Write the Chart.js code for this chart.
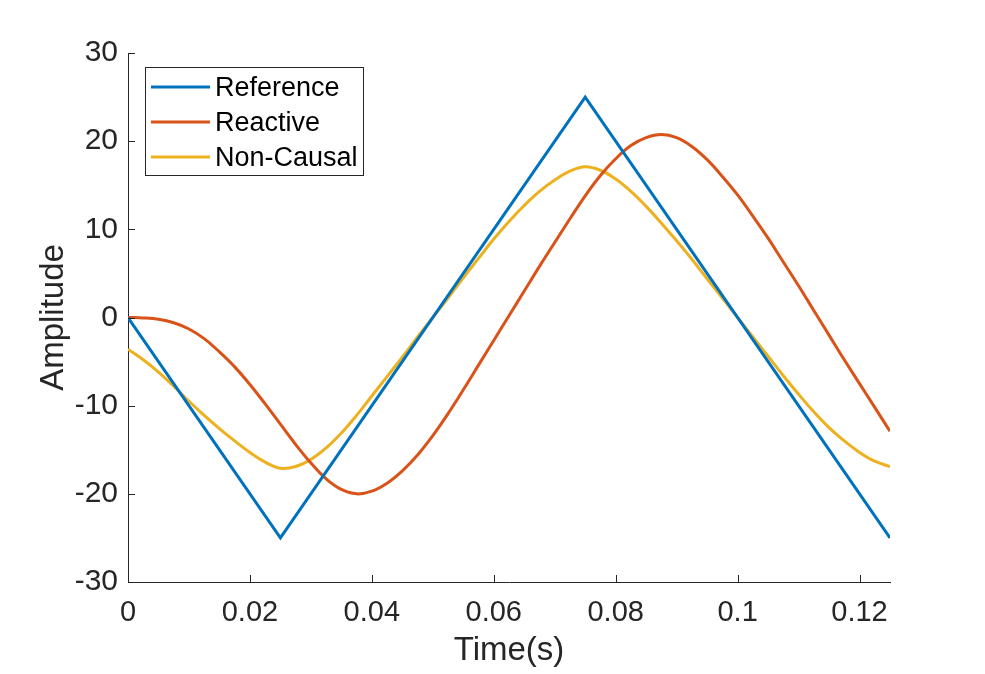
<!DOCTYPE html>
<html>
<head>
<meta charset="utf-8">
<script src="https://cdn.jsdelivr.net/npm/chart.js@4.4.1/dist/chart.umd.min.js"></script>
<style>
  html, body { margin: 0; padding: 0; background: #ffffff; }
  #wrap { width: 985px; height: 674px; }
</style>
</head>
<body>
<div id="wrap"><canvas id="c" width="985" height="674"></canvas></div>
<script>
// ---- data ----
const refTimes = [0, 0.025, 0.075, 0.125];
const refValues = [0, -25, 25, -25];

const times = [0, 0.0025, 0.005, 0.0075, 0.01, 0.0125, 0.015, 0.0175, 0.02, 0.0225,
  0.025, 0.0275, 0.03, 0.0325, 0.035, 0.0375, 0.04, 0.0425, 0.045, 0.0475,
  0.05, 0.0525, 0.055, 0.0575, 0.06, 0.0625, 0.065, 0.0675, 0.07, 0.0725,
  0.075, 0.0775, 0.08, 0.0825, 0.085, 0.0875, 0.09, 0.0925, 0.095, 0.0975,
  0.1, 0.1025, 0.105, 0.1075, 0.11, 0.1125, 0.115, 0.1175, 0.12, 0.1225, 0.125];

const reactiveValues = [0, -0.05, -0.2, -0.6, -1.3, -2.4, -3.9, -5.6, -7.6, -9.8,
  -12.1, -14.4, -16.5, -18.3, -19.5, -20.0, -19.7, -18.8, -17.4, -15.6,
  -13.4, -10.9, -8.2, -5.4, -2.6, 0.2, 3.0, 5.8, 8.5, 11.2,
  13.8, 16.1, 18.0, 19.5, 20.4, 20.75, 20.4, 19.4, 17.9, 16.0,
  13.9, 11.5, 9.0, 6.3, 3.6, 0.8, -2.0, -4.8, -7.5, -10.2, -12.9];

const nonCausalValues = [-3.6, -4.8, -6.2, -7.8, -9.5, -11.1, -12.6, -14.0, -15.3, -16.4,
  -17.1, -16.9, -16.1, -14.8, -13.1, -11.1, -8.9, -6.7, -4.5, -2.2,
  0, 2.2, 4.5, 6.7, 8.9, 10.9, 12.7, 14.3, 15.6, 16.6,
  17.1, 16.7, 15.7, 14.3, 12.6, 10.7, 8.7, 6.6, 4.4, 2.2,
  0, -2.2, -4.4, -6.6, -8.7, -10.7, -12.5, -14.0, -15.3, -16.3, -16.9];

const seriesNames = ['Reference', 'Reactive', 'Non-Causal'];
const xTickValues = [0, 0.02, 0.04, 0.06, 0.08, 0.1, 0.12];
const xTickLabels = ['0', '0.02', '0.04', '0.06', '0.08', '0.1', '0.12'];
const yTickValues = [-30, -20, -10, 0, 10, 20, 30];
const yTickLabels = ['-30', '-20', '-10', '0', '10', '20', '30'];
const xTitle = 'Time(s)';
const yTitle = 'Amplitude';

// ---- styling ----
const COLORS = ['#0072BD', '#D95319', '#EDB120'];
const AXIS = '#262626';
const FONT = '"Liberation Sans", Arial, Helvetica, sans-serif';

function pairs(xs, ys) { return xs.map((x, i) => ({ x: x, y: ys[i] })); }

const inwardTicks = {
  id: 'inwardTicks',
  afterDatasetsDraw(chart) {
    const ctx = chart.ctx;
    const xs = chart.scales.x, ys = chart.scales.y;
    const a = chart.chartArea;
    ctx.save();
    ctx.strokeStyle = AXIS;
    ctx.lineWidth = 1;
    ctx.beginPath();
    xTickValues.forEach(v => {
      const px = Math.round(xs.getPixelForValue(v)) + 0.5;
      ctx.moveTo(px, a.bottom);
      ctx.lineTo(px, a.bottom - 7);
    });
    yTickValues.forEach(v => {
      const py = Math.round(ys.getPixelForValue(v)) + 0.5;
      ctx.moveTo(a.left, py);
      ctx.lineTo(a.left + 7, py);
    });
    ctx.stroke();
    ctx.restore();
  }
};

const boxLegend = {
  id: 'boxLegend',
  afterDraw(chart) {
    const ctx = chart.ctx;
    const a = chart.chartArea;
    const left = a.left + 17, top = a.top + 14, w = 218, h = 108;
    ctx.save();
    ctx.fillStyle = '#ffffff';
    ctx.fillRect(left, top, w, h);
    ctx.strokeStyle = AXIS;
    ctx.lineWidth = 1;
    ctx.strokeRect(left + 0.5, top + 0.5, w, h);
    ctx.font = '27px ' + FONT;
    ctx.textBaseline = 'middle';
    chart.data.datasets.forEach((ds, i) => {
      const y = top + 20 + i * 35;
      ctx.strokeStyle = ds.borderColor;
      ctx.lineWidth = 3;
      ctx.beginPath();
      ctx.moveTo(left + 6, y);
      ctx.lineTo(left + 65, y);
      ctx.stroke();
      ctx.fillStyle = '#000000';
      ctx.fillText(ds.label, left + 70, y + 2);
    });
    ctx.restore();
  }
};

new Chart(document.getElementById('c'), {
  type: 'line',
  data: {
    datasets: [
      { label: seriesNames[0], data: pairs(refTimes, refValues), borderColor: COLORS[0],
        borderWidth: 3, tension: 0, pointRadius: 0, fill: false },
      { label: seriesNames[1], data: pairs(times, reactiveValues), borderColor: COLORS[1],
        borderWidth: 3, tension: 0.4, pointRadius: 0, fill: false },
      { label: seriesNames[2], data: pairs(times, nonCausalValues), borderColor: COLORS[2],
        borderWidth: 3, tension: 0.4, pointRadius: 0, fill: false }
    ]
  },
  options: {
    responsive: false,
    animation: false,
    devicePixelRatio: 1,
    layout: { padding: { top: 53, right: 95, left: 0, bottom: 0 } },
    plugins: { legend: { display: false }, tooltip: { enabled: false } },
    scales: {
      x: {
        type: 'linear', min: 0, max: 0.125,
        afterFit(s) { s.height = 92; },
        afterBuildTicks(s) { s.ticks = xTickValues.map(v => ({ value: v })); },
        ticks: {
          callback: (v) => xTickLabels[xTickValues.indexOf(v)],
          font: { family: FONT, size: 29 }, color: AXIS, padding: 14,
          maxRotation: 0, autoSkip: false
        },
        grid: { display: false, drawTicks: false },
        border: { display: true, color: AXIS, width: 1 },
        title: { display: true, text: xTitle, color: AXIS,
          font: { family: FONT, size: 33 }, padding: { top: 0, bottom: 3 } }
      },
      y: {
        type: 'linear', min: -30, max: 30,
        afterFit(s) { s.width = 128; },
        afterBuildTicks(s) { s.ticks = yTickValues.map(v => ({ value: v })); },
        ticks: {
          callback: (v) => yTickLabels[yTickValues.indexOf(v)],
          font: { family: FONT, size: 30 }, color: AXIS, padding: 10, autoSkip: false
        },
        grid: { display: false, drawTicks: false },
        border: { display: true, color: AXIS, width: 1 },
        title: { display: true, text: yTitle, color: AXIS,
          font: { family: FONT, size: 33 }, padding: { top: 34, bottom: 0 } }
      }
    }
  },
  plugins: [inwardTicks, boxLegend]
});
</script>
</body>
</html>
